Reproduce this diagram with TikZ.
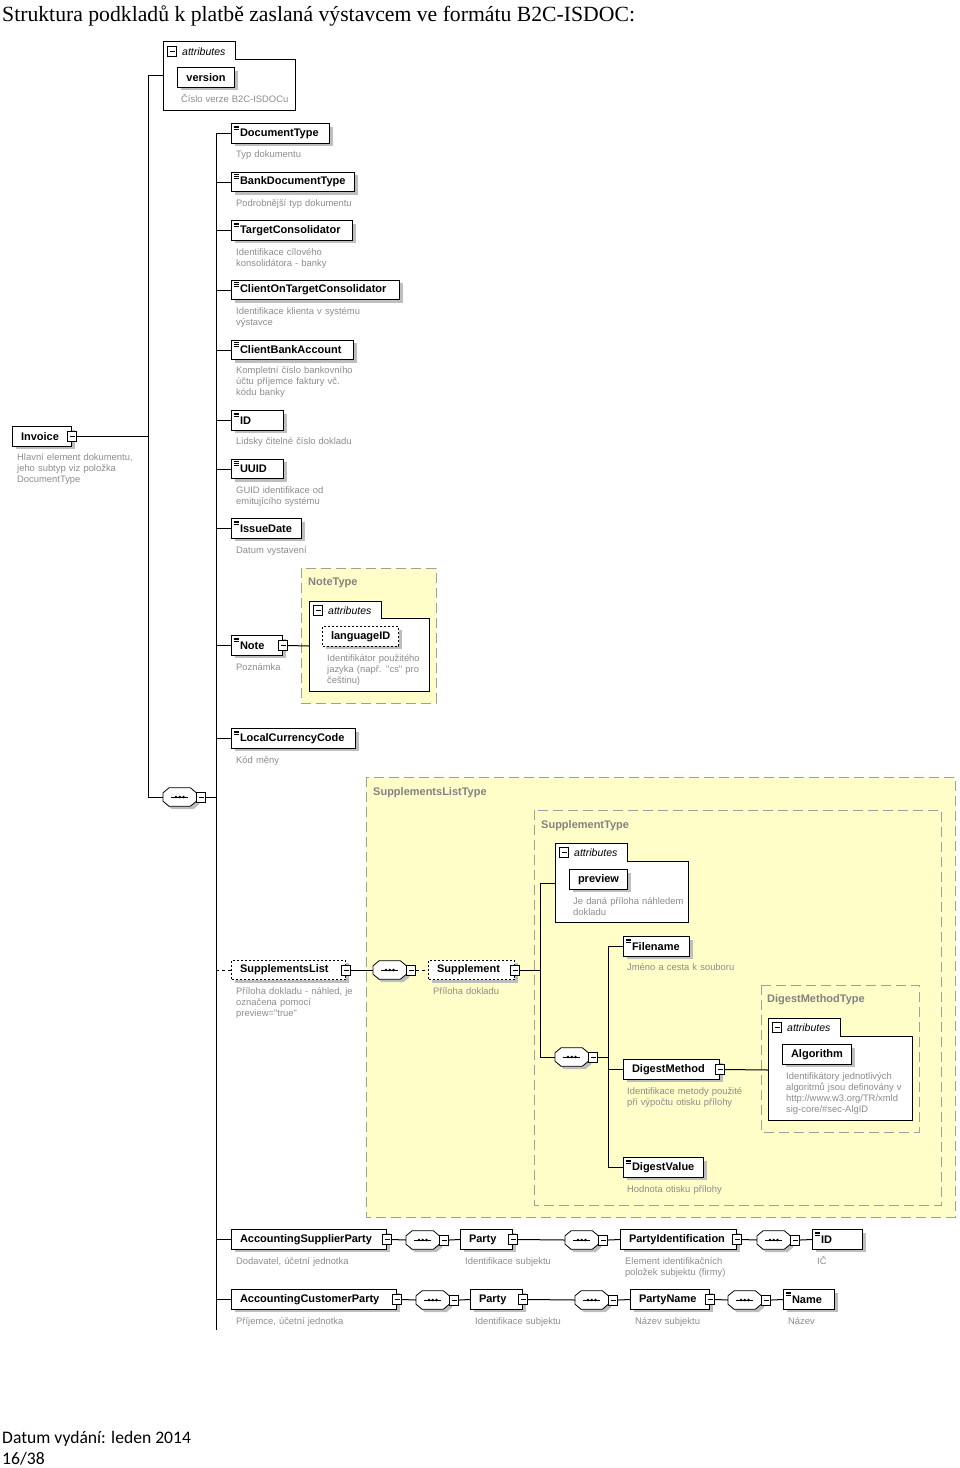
\documentclass[tikz,border=0pt]{standalone}
\usepackage{fontspec}
\newfontfamily\diagfont{Liberation Sans}
\newfontfamily\titlefont{Liberation Serif}
\newfontfamily\footfont{Carlito}
\usetikzlibrary{shadows}
\definecolor{typeyellow}{RGB}{255,253,200}
\definecolor{typeborder}{RGB}{160,160,150}
\definecolor{typetext}{RGB}{130,130,130}
\definecolor{desctext}{RGB}{140,140,140}
\definecolor{shadowgray}{RGB}{190,190,190}
% outline of a sequence compositor
\newcommand{\seqoutline}[1]{([xshift=6pt]#1.north west) -- ([xshift=-6pt]#1.north east) -- ([yshift=-5pt]#1.north east)
  -- ([yshift=5pt]#1.south east) -- ([xshift=-6pt]#1.south east) -- ([xshift=6pt]#1.south west)
  -- ([yshift=5pt]#1.south west) -- ([yshift=-5pt]#1.north west) -- cycle}
\begin{document}
\begin{tikzpicture}[x=1pt, y=-1pt,
    shadowed/.style={drop shadow={shadow xshift=3pt, shadow yshift=-3pt, fill=shadowgray, opacity=1}},
    elem/.style={draw, fill=white, line width=1pt, shadowed, anchor=west, minimum height=19.5pt,
      inner xsep=8.5pt, inner ysep=0pt, text width=#1pt, align=left,
      font=\diagfont\bfseries\fontsize{11}{13}\selectfont},
    optelem/.style={elem=#1, dash pattern=on 2pt off 2pt},
    attr/.style={elem=#1, align=center},
    optattr/.style={optelem=#1, align=center},
    simple/.style={path picture={
      \draw[line width=0.6pt] ([shift={(2pt,-2.2pt)}]path picture bounding box.north west) -- ++(5pt,0pt);
      \draw[line width=0.6pt] ([shift={(2pt,-3.9pt)}]path picture bounding box.north west) -- ++(5pt,0pt);
      \draw[line width=0.6pt] ([shift={(2pt,-5.6pt)}]path picture bounding box.north west) -- ++(5pt,0pt);}},
    minusb/.style={draw, fill=white, line width=0.8pt, minimum width=9pt, minimum height=10pt, inner sep=0pt,
      path picture={\draw[line width=0.8pt] ([xshift=2pt]path picture bounding box.west) -- ([xshift=-2pt]path picture bounding box.east);}},
    seqc/.style={rectangle, minimum width=33pt, minimum height=18pt, inner sep=0pt, anchor=west,
      append after command={\pgfextra{\let\seqnode\tikzlastnode
        \fill[shadowgray, transform canvas={xshift=3pt, yshift=-3pt}] \seqoutline{\seqnode};
        \draw[fill=white, line width=0.8pt] \seqoutline{\seqnode};
        \draw[line width=0.8pt] ([xshift=8pt]\seqnode.west) -- ([xshift=-8pt]\seqnode.east);
        \fill (\seqnode.center) circle (1.4pt);
        \fill ([xshift=-3.7pt]\seqnode.center) circle (1.4pt);
        \fill ([xshift=3.7pt]\seqnode.center) circle (1.4pt);}}},
    desc/.style={anchor=base west, inner sep=0pt, text width=170pt, align=left, text=desctext,
      font=\diagfont\fontsize{9.4}{11}\selectfont},
    typebox/.style={fill=typeyellow, draw=typeborder, line width=1pt, dash pattern=on 10pt off 5pt},
    typelbl/.style={anchor=base west, inner sep=0pt, text=typetext, font=\diagfont\bfseries\fontsize{11}{13}\selectfont},
    attrgrp/.style={draw, fill=white, line width=1pt},
    attrlbl/.style={anchor=base west, inner sep=0pt, font=\diagfont\itshape\fontsize{10.5}{12}\selectfont},
    tree/.style={line width=1pt},
    opttree/.style={line width=1pt, dash pattern=on 3pt off 3pt}
  ]
  \useasboundingbox (0,0) rectangle (960,1468);

  % page texts
  \node[anchor=base west, inner sep=0pt, font=\titlefont\fontsize{21.7}{26}\selectfont] (title) at (2,21)
    {Struktura podkladů k platbě zaslaná výstavcem ve formátu B2C-ISDOC:};
  \node[anchor=base west, inner sep=0pt, font=\footfont\fontsize{17.6}{21}\selectfont] (date) at (2,1443) {Datum vydání: leden 2014};
  \node[anchor=base west, inner sep=0pt, font=\footfont\fontsize{17.6}{21}\selectfont] (page) at (2,1464) {16/38};

  % complex types
  \draw[typebox] (366,777) rectangle (955,1217);
  \node[typelbl] (sltype) at (373,795) {SupplementsListType};
  \draw[typebox] (534,810) rectangle (941,1205);
  \node[typelbl] (stype) at (541,828) {SupplementType};
  \draw[typebox] (761,985) rectangle (919,1132);
  \node[typelbl] (dmtype) at (767,1002) {DigestMethodType};
  \draw[typebox] (301,568) rectangle (436,703);
  \node[typelbl] (ntype) at (308,585) {NoteType};

  % attribute groups
  \draw[attrgrp] (163,41) -- (235,41) -- (235,59) -- (295,59) -- (295,110) -- (163,110) -- cycle;
  \node[minusb] (ag0m) at (172,51) {};
  \node[attrlbl] (ag0t) at (182,55) {attributes};
  \coordinate (ag0) at (163,75);
  \draw[attrgrp] (309,601) -- (381,601) -- (381,618) -- (429,618) -- (429,691) -- (309,691) -- cycle;
  \node[minusb] (ag1m) at (318,610) {};
  \node[attrlbl] (ag1t) at (328,614) {attributes};
  \coordinate (ag1) at (309,646);
  \draw[attrgrp] (555,843) -- (627,843) -- (627,861) -- (688,861) -- (688,922) -- (555,922) -- cycle;
  \node[minusb] (ag2m) at (564,852) {};
  \node[attrlbl] (ag2t) at (574,856) {attributes};
  \coordinate (ag2) at (555,883);
  \draw[attrgrp] (768,1018) -- (840,1018) -- (840,1036) -- (912,1036) -- (912,1120) -- (768,1120) -- cycle;
  \node[minusb] (ag3m) at (777,1027) {};
  \node[attrlbl] (ag3t) at (787,1031) {attributes};
  \coordinate (ag3) at (768,1070);

  % root
  \node[elem=42] (inv) at (12,436.5) {Invoice};
  \node[minusb] (invm) at (inv.east) {};
  \node[desc] (invd) at (17,460.5) {Hlavní element dokumentu,\\jeho subtyp viz položka\\DocumentType};
  \node[attr=40] (version) at (177,77.5) {version};
  \node[desc] (versiond) at (181,102.5) {Číslo verze B2C-ISDOCu};
  \node[seqc] (s0) at (163,797) {};
  \node[minusb, anchor=west] (s0m) at (s0.east) {};

  % sequence of Invoice
  \node[elem=81, simple] (doctype) at (231,133.5) {DocumentType};
  \node[desc] (doctyped) at (236,157.5) {Typ dokumentu};
  \node[elem=106, simple] (bankdoc) at (231,182) {BankDocumentType};
  \node[desc] (bankdocd) at (236,206.5) {Podrobnější typ dokumentu};
  \node[elem=104, simple] (target) at (231,230.5) {TargetConsolidator};
  \node[desc] (targetd) at (236,255.5) {Identifikace cílového\\konsolidátora - banky};
  \node[elem=151, simple] (client) at (231,290) {ClientOnTargetConsolidator};
  \node[desc] (clientd) at (236,314.5) {Identifikace klienta v systému\\výstavce};
  \node[elem=105, simple] (account) at (231,350) {ClientBankAccount};
  \node[desc] (accountd) at (236,373.5) {Kompletní číslo bankovního\\účtu příjemce faktury vč.\\kódu banky};
  \node[elem=35, simple] (id) at (231,420.5) {ID};
  \node[desc] (idd) at (236,444.5) {Lidsky čitelné číslo dokladu};
  \node[elem=35, simple] (uuid) at (231,469) {UUID};
  \node[desc] (uuidd) at (236,493.5) {GUID identifikace od\\emitujícího systému};
  \node[elem=53, simple] (issue) at (231,528.5) {IssueDate};
  \node[desc] (issued) at (236,553.5) {Datum vystavení};
  \node[elem=34, simple] (note) at (231,645.5) {Note};
  \node[minusb] (notem) at (note.east) {};
  \node[desc] (noted) at (236,670.5) {Poznámka};
  \node[optattr=59] (lang) at (322,636.5) {languageID};
  \node[desc] (langd) at (327,661.5) {Identifikátor použitého\\jazyka (např. "cs" pro\\češtinu)};
  \node[elem=107, simple] (currency) at (231,738.5) {LocalCurrencyCode};
  \node[desc] (currencyd) at (236,763.5) {Kód měny};

  % supplements
  \node[optelem=97] (supplist) at (231,970) {SupplementsList};
  \node[minusb] (supplistm) at (supplist.east) {};
  \node[desc] (supplistd) at (236,994.5) {Příloha dokladu - náhled, je\\označena pomocí\\preview="true"};
  \node[seqc] (s1) at (373,970) {};
  \node[minusb, anchor=west] (s1m) at (s1.east) {};
  \node[optelem=69] (suppl) at (428,970) {Supplement};
  \node[minusb] (supplm) at (suppl.east) {};
  \node[desc] (suppld) at (433,994.5) {Příloha dokladu};
  \node[attr=41] (preview) at (569,879.5) {preview};
  \node[desc] (previewd) at (573,904.5) {Je daná příloha náhledem\\dokladu};
  \node[seqc] (s2) at (555,1057) {};
  \node[minusb, anchor=west] (s2m) at (s2.east) {};
  \node[elem=49, simple] (file) at (623,946.5) {Filename};
  \node[desc] (filed) at (627,970.5) {Jméno a cesta k souboru};
  \node[elem=79] (dmeth) at (623,1069.5) {DigestMethod};
  \node[minusb] (dmethm) at (dmeth.east) {};
  \node[desc] (dmethd) at (627,1094.5) {Identifikace metody použité\\při výpočtu otisku přílohy};
  \node[attr=52] (algo) at (782,1054.5) {Algorithm};
  \node[desc] (algod) at (786,1079.5) {Identifikátory jednotlivých\\algoritmů jsou definovány v\\http://www.w3.org/TR/xmld\\sig-core/\#sec-AlgID};
  \node[elem=63, simple] (dvalue) at (623,1167.5) {DigestValue};
  \node[desc] (dvalued) at (627,1192.5) {Hodnota otisku přílohy};

  % parties
  \node[elem=138] (supp) at (231,1239.5) {AccountingSupplierParty};
  \node[minusb] (suppm) at (supp.east) {};
  \node[desc] (suppd) at (236,1264.5) {Dodavatel, účetní jednotka};
  \node[seqc] (s3) at (406,1240) {};
  \node[minusb, anchor=west] (s3m) at (s3.east) {};
  \node[elem=35] (party1) at (460,1239.5) {Party};
  \node[minusb] (party1m) at (party1.east) {};
  \node[desc] (party1d) at (465,1264.5) {Identifikace subjektu};
  \node[seqc] (s4) at (565,1240) {};
  \node[minusb, anchor=west] (s4m) at (s4.east) {};
  \node[elem=99] (partyid) at (620,1239.5) {PartyIdentification};
  \node[minusb] (partyidm) at (partyid.east) {};
  \node[desc] (partyidd) at (625,1264.5) {Element identifikačních\\položek subjektu (firmy)};
  \node[seqc] (s5) at (757,1240) {};
  \node[minusb, anchor=west] (s5m) at (s5.east) {};
  \node[elem=33, simple] (ic) at (812,1239.5) {ID};
  \node[desc] (icd) at (817,1264.5) {IČ};

  \node[elem=148] (cust) at (231,1299.5) {AccountingCustomerParty};
  \node[minusb] (custm) at (cust.east) {};
  \node[desc] (custd) at (236,1324.5) {Příjemce, účetní jednotka};
  \node[seqc] (s6) at (416,1300) {};
  \node[minusb, anchor=west] (s6m) at (s6.east) {};
  \node[elem=35] (party2) at (470,1299.5) {Party};
  \node[minusb] (party2m) at (party2.east) {};
  \node[desc] (party2d) at (475,1324.5) {Identifikace subjektu};
  \node[seqc] (s7) at (575,1300) {};
  \node[minusb, anchor=west] (s7m) at (s7.east) {};
  \node[elem=62] (pname) at (630,1299.5) {PartyName};
  \node[minusb] (pnamem) at (pname.east) {};
  \node[desc] (pnamed) at (635,1324.5) {Název subjektu};
  \node[seqc] (s8) at (728,1300) {};
  \node[minusb, anchor=west] (s8m) at (s8.east) {};
  \node[elem=34, simple] (name) at (783,1299.5) {Name};
  \node[desc] (named) at (788,1324.5) {Název};

  % connectors
  \coordinate (t0top) at (148,75);
  \coordinate (t0bot) at (148,797);
  \draw[tree] (t0top) -- (t0bot);
  \draw[tree] (invm.east) -- (invm.east -| t0top);
  \draw[tree] (t0top) -- (ag0);
  \draw[tree] (t0bot) -- (s0.west);
  \coordinate (t1top) at (216,133.5);
  \coordinate (t1bot) at (216,1330);
  \draw[tree] (t1top) -- (t1bot);
  \draw[tree] (s0m.east) -- (s0m.east -| t1top);
  \draw[tree] (doctype.west -| t1top) -- (doctype.west);
  \draw[tree] (bankdoc.west -| t1top) -- (bankdoc.west);
  \draw[tree] (target.west -| t1top) -- (target.west);
  \draw[tree] (client.west -| t1top) -- (client.west);
  \draw[tree] (account.west -| t1top) -- (account.west);
  \draw[tree] (id.west -| t1top) -- (id.west);
  \draw[tree] (uuid.west -| t1top) -- (uuid.west);
  \draw[tree] (issue.west -| t1top) -- (issue.west);
  \draw[tree] (note.west -| t1top) -- (note.west);
  \draw[tree] (notem.east) -- (ag1);
  \draw[tree] (currency.west -| t1top) -- (currency.west);
  \draw[opttree] (supplist.west -| t1top) -- (supplist.west);
  \draw[tree] (supp.west -| t1top) -- (supp.west);
  \draw[tree] (cust.west -| t1top) -- (cust.west);

  \draw[tree] (supplistm.east) -- (s1.west);
  \draw[opttree] (s1m.east) -- (suppl.west);
  \coordinate (t2top) at (540,883);
  \coordinate (t2bot) at (540,1057);
  \draw[tree] (t2top) -- (t2bot);
  \draw[tree] (supplm.east) -- (supplm.east -| t2top);
  \draw[tree] (t2top) -- (ag2);
  \draw[tree] (t2bot) -- (s2.west);
  \coordinate (t3top) at (608,946.5);
  \coordinate (t3bot) at (608,1167.5);
  \draw[tree] (t3top) -- (t3bot);
  \draw[tree] (s2m.east) -- (s2m.east -| t3top);
  \draw[tree] (file.west -| t3top) -- (file.west);
  \draw[tree] (dmeth.west -| t3top) -- (dmeth.west);
  \draw[tree] (dvalue.west -| t3top) -- (dvalue.west);
  \draw[tree] (dmethm.east) -- (ag3);

  \draw[tree] (suppm.east) -- (s3.west);
  \draw[tree] (s3m.east) -- (party1.west);
  \draw[tree] (party1m.east) -- (s4.west);
  \draw[tree] (s4m.east) -- (partyid.west);
  \draw[tree] (partyidm.east) -- (s5.west);
  \draw[tree] (s5m.east) -- (ic.west);
  \draw[tree] (custm.east) -- (s6.west);
  \draw[tree] (s6m.east) -- (party2.west);
  \draw[tree] (party2m.east) -- (s7.west);
  \draw[tree] (s7m.east) -- (pname.west);
  \draw[tree] (pnamem.east) -- (s8.west);
  \draw[tree] (s8m.east) -- (name.west);
\end{tikzpicture}
\end{document}
